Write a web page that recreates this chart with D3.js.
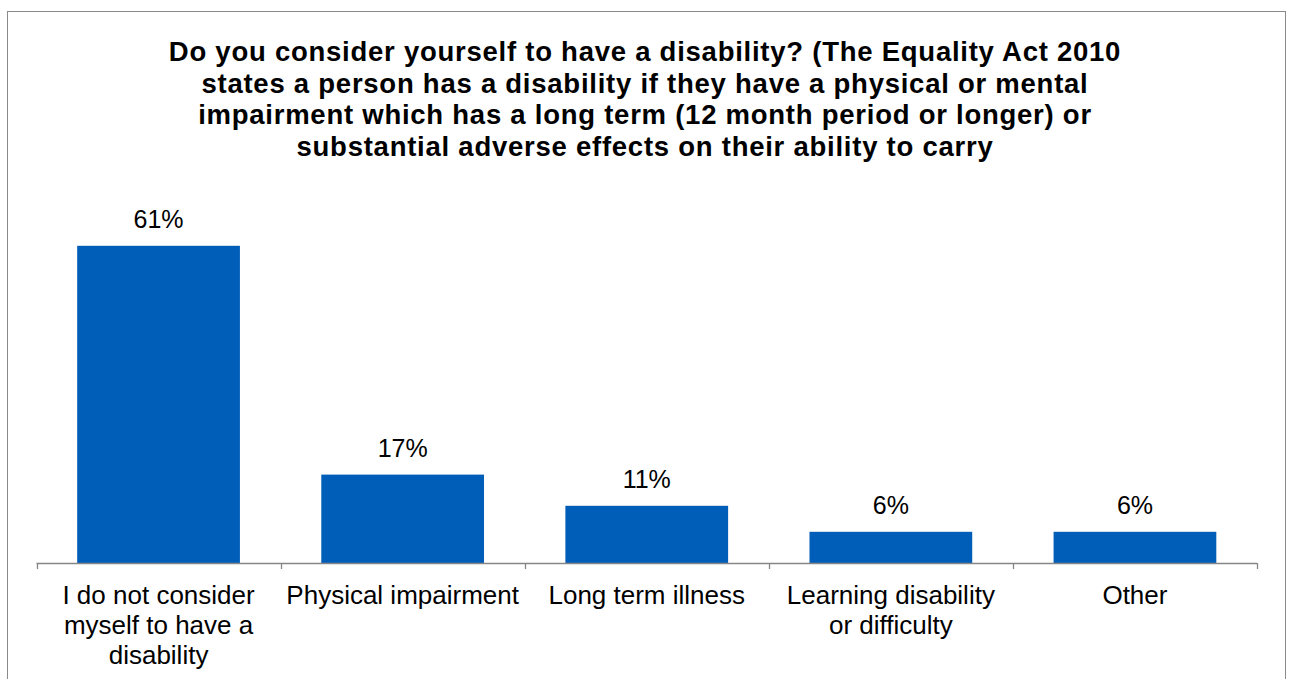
<!DOCTYPE html>
<html>
<head>
<meta charset="utf-8">
<script src="https://cdn.jsdelivr.net/npm/d3@7"></script>
<style>
  html, body { margin: 0; padding: 0; background: #fff; }
  svg { display: block; font-family: Arial, "Liberation Sans", sans-serif; }
</style>
</head>
<body>
<svg id="chart" width="1290" height="679"></svg>
<script>
// Survey responses: share of respondents (%)
const categories = [
  "I do not consider myself to have a disability",
  "Physical impairment",
  "Long term illness",
  "Learning disability or difficulty",
  "Other"
];
const categoryLines = [
  ["I do not consider", "myself to have a", "disability"],
  ["Physical impairment"],
  ["Long term illness"],
  ["Learning disability", "or difficulty"],
  ["Other"]
];
const values = [61, 17, 11, 6, 6];
const titleLines = [
  "Do you consider yourself to have a disability? (The Equality Act 2010",
  "states a person has a disability if they have a physical or mental",
  "impairment which has a long term (12 month period or longer) or",
  "substantial adverse effects on their ability to carry"
];

const svg = d3.select("#chart");

// outer frame
svg.append("rect")
  .attr("x", 7.5).attr("y", 11.5)
  .attr("width", 1278).attr("height", 700)
  .attr("fill", "#fff").attr("stroke", "#8a8a8a").attr("stroke-width", 1);

// title
svg.append("text")
  .attr("text-anchor", "middle")
  .attr("font-weight", "bold")
  .attr("font-size", 27.5)
  .attr("letter-spacing", 0.75)
  .attr("fill", "#000")
  .selectAll("tspan")
  .data(titleLines)
  .join("tspan")
  .attr("x", 645)
  .attr("y", (d, i) => 61 + i * 31.7)
  .text(d => d);

const plot = { left: 36.5, right: 1257, base: 563 };

const x = d3.scaleBand()
  .domain(categories)
  .range([plot.left, plot.right])
  .paddingInner(1 / 3)
  .paddingOuter(1 / 6);

const y = d3.scaleLinear()
  .domain([0, 10])
  .range([plot.base, plot.base - 52]);

// bars
svg.append("g")
  .selectAll("rect")
  .data(values)
  .join("rect")
  .attr("x", (d, i) => x(categories[i]))
  .attr("y", d => y(d))
  .attr("width", x.bandwidth())
  .attr("height", d => plot.base - y(d))
  .attr("fill", "#005EB8");

// value labels
svg.append("g")
  .selectAll("text")
  .data(values)
  .join("text")
  .attr("x", (d, i) => x(categories[i]) + x.bandwidth() / 2)
  .attr("y", d => y(d) - 17.5)
  .attr("text-anchor", "middle")
  .attr("font-size", 25)
  .attr("fill", "#000")
  .text(d => d + "%");

// category axis: baseline with ticks at band boundaries
const step = x.step();
const boundaries = d3.range(categories.length + 1).map(i => plot.left + i * step);
const axis = svg.append("g");
axis.append("line")
  .attr("x1", plot.left).attr("x2", plot.right)
  .attr("y1", plot.base + 0.5).attr("y2", plot.base + 0.5)
  .attr("stroke", "#868686").attr("stroke-width", 1.3);
axis.selectAll("line.tick")
  .data(boundaries)
  .join("line")
  .attr("class", "tick")
  .attr("x1", d => Math.round(d) + 0.5).attr("x2", d => Math.round(d) + 0.5)
  .attr("y1", plot.base).attr("y2", plot.base + 6)
  .attr("stroke", "#868686").attr("stroke-width", 1.3);

// category labels
axis.selectAll("text.cat")
  .data(categoryLines)
  .join("text")
  .attr("class", "cat")
  .attr("text-anchor", "middle")
  .attr("font-size", 26)
  .attr("fill", "#000")
  .each(function (lines, i) {
    const cx = x(categories[i]) + x.bandwidth() / 2;
    d3.select(this).selectAll("tspan")
      .data(lines)
      .join("tspan")
      .attr("x", cx)
      .attr("y", (d, j) => plot.base + 41 + j * 30)
      .text(d => d);
  });
</script>
</body>
</html>
